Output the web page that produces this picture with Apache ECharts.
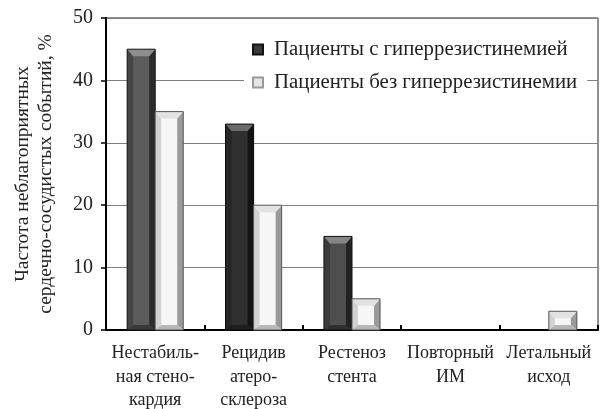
<!DOCTYPE html>
<html>
<head>
<meta charset="utf-8">
<script src="https://cdn.jsdelivr.net/npm/echarts@6/dist/echarts.min.js"></script>
<style>
  html, body { margin: 0; padding: 0; background: #fff; }
  #chart { width: 603px; height: 409px; }
</style>
</head>
<body>
<div id="chart"></div>
<script>
// Частота неблагоприятных сердечно-сосудистых событий по группам пациентов
const categories = [
  'Нестабиль-\nная стено-\nкардия',
  'Рецидив\nатеро-\nсклероза',
  'Рестеноз\nстента',
  'Повторный\nИМ',
  'Летальный\nисход'
];
const seriesNames = [
  'Пациенты с гиперрезистинемией',
  'Пациенты без гиперрезистинемии'
];
const withHyper = [45, 33, 15, 0, 0];
const withoutHyper = [35, 20, 5, 0, 3];
const yTicks = [0, 10, 20, 30, 40, 50];

const FONT = '"Liberation Serif", "DejaVu Serif", serif';

// Bevel palettes: face, left side, right side, top, bottom, outline
const darkShades = [
  { face: '#5c5c5c', left: '#454545', right: '#2c2c2c', top: '#8e8e8e', bottom: '#3a3a3a', line: '#1a1a1a' },
  { face: '#303030', left: '#262626', right: '#141414', top: '#6a6a6a', bottom: '#1e1e1e', line: '#0a0a0a' },
  { face: '#4e4e4e', left: '#3c3c3c', right: '#222222', top: '#858585', bottom: '#303030', line: '#111111' },
  { face: '#4e4e4e', left: '#3c3c3c', right: '#222222', top: '#858585', bottom: '#303030', line: '#111111' },
  { face: '#4e4e4e', left: '#3c3c3c', right: '#222222', top: '#858585', bottom: '#303030', line: '#111111' }
];
const lightShade = { face: '#f7f7f7', left: '#d2d2d2', right: '#9a9a9a', top: '#e2e2e2', bottom: '#b8b8b8', line: '#555555' };

function bevelRenderer(side, shadeFor) {
  return function (params, api) {
    const idx = api.value(0);
    const val = api.value(1);
    if (!val) return;
    const top = api.coord([idx, val]);
    const base = api.coord([idx, 0]);
    const bw = api.size([1, 0])[0] * 0.285;
    const x0 = side === 0 ? top[0] - bw : top[0];
    const x1 = x0 + bw;
    const y0 = top[1];
    const y1 = base[1];
    const h = y1 - y0;
    const bx = Math.min(6, bw / 3);
    const bt = Math.min(7, h / 2.5);
    const bb = Math.min(5, h / 3);
    const s = shadeFor(idx);
    const poly = (pts, fill) => ({ type: 'polygon', shape: { points: pts }, style: { fill: fill } });
    return {
      type: 'group',
      children: [
        { type: 'rect', shape: { x: x0, y: y0, width: bw, height: h }, style: { fill: s.face } },
        poly([[x0, y0], [x0 + bx, y0 + bt], [x0 + bx, y1 - bb], [x0, y1]], s.left),
        poly([[x1, y0], [x1 - bx, y0 + bt], [x1 - bx, y1 - bb], [x1, y1]], s.right),
        poly([[x0, y0], [x1, y0], [x1 - bx, y0 + bt], [x0 + bx, y0 + bt]], s.top),
        poly([[x0, y1], [x1, y1], [x1 - bx, y1 - bb], [x0 + bx, y1 - bb]], s.bottom),
        { type: 'rect', shape: { x: x0, y: y0, width: bw, height: h },
          style: { fill: 'none', stroke: s.line, lineWidth: 1 } }
      ]
    };
  };
}

const chart = echarts.init(document.getElementById('chart'), null, { renderer: 'canvas' });

chart.setOption({
  backgroundColor: '#ffffff',
  animation: false,
  textStyle: { fontFamily: FONT, color: '#222' },
  grid: {
    left: 106, right: 5, top: 18, bottom: 79,
    outerBoundsMode: 'none',
    containLabel: false,
    show: true, borderColor: '#222', borderWidth: 1, backgroundColor: 'transparent'
  },
  legend: {
    orient: 'vertical',
    left: 244, top: 35,
    itemWidth: 10, itemHeight: 10, itemGap: 12,
    icon: 'rect',
    backgroundColor: '#ffffff',
    padding: [4, 10, 4, 8],
    textStyle: { fontFamily: FONT, fontSize: 20.8, color: '#222', padding: [0, 0, 0, 6] },
    data: seriesNames
  },
  xAxis: {
    type: 'category',
    data: categories,
    axisLine: { lineStyle: { color: '#000', width: 2 } },
    axisTick: { show: true, inside: true, length: 5, alignWithLabel: false, lineStyle: { color: '#000', width: 2 } },
    axisLabel: { fontFamily: FONT, fontSize: 18, color: '#222', lineHeight: 23.5, margin: 12, interval: 0 },
    splitLine: { show: false }
  },
  yAxis: {
    type: 'value',
    min: yTicks[0], max: yTicks[yTicks.length - 1], interval: 10,
    name: 'Частота неблагоприятных\nсердечно-сосудистых событий, %',
    nameLocation: 'middle',
    nameRotate: 90,
    nameGap: 49,
    nameMoveOverlap: false,
    nameTextStyle: { fontFamily: FONT, fontSize: 19.5, color: '#222', lineHeight: 23 },
    axisLine: { show: true, lineStyle: { color: '#000', width: 2 } },
    axisTick: { show: true, inside: false, length: 5, lineStyle: { color: '#000', width: 1.5 } },
    axisLabel: { fontFamily: FONT, fontSize: 20, color: '#222', margin: 13 },
    splitLine: { show: true, lineStyle: { color: '#808080', width: 1 } }
  },
  series: [
    {
      name: seriesNames[0],
      type: 'custom',
      renderItem: bevelRenderer(0, i => darkShades[i]),
      encode: { x: 0, y: 1 },
      itemStyle: { color: '#3a3a3a', borderColor: '#111', borderWidth: 1 },
      data: withHyper.map((v, i) => [i, v]),
      z: 3
    },
    {
      name: seriesNames[1],
      type: 'custom',
      renderItem: bevelRenderer(1, () => lightShade),
      encode: { x: 0, y: 1 },
      itemStyle: { color: '#e6e6e6', borderColor: '#999', borderWidth: 1 },
      data: withoutHyper.map((v, i) => [i, v]),
      z: 3
    }
  ]
});
</script>
</body>
</html>
